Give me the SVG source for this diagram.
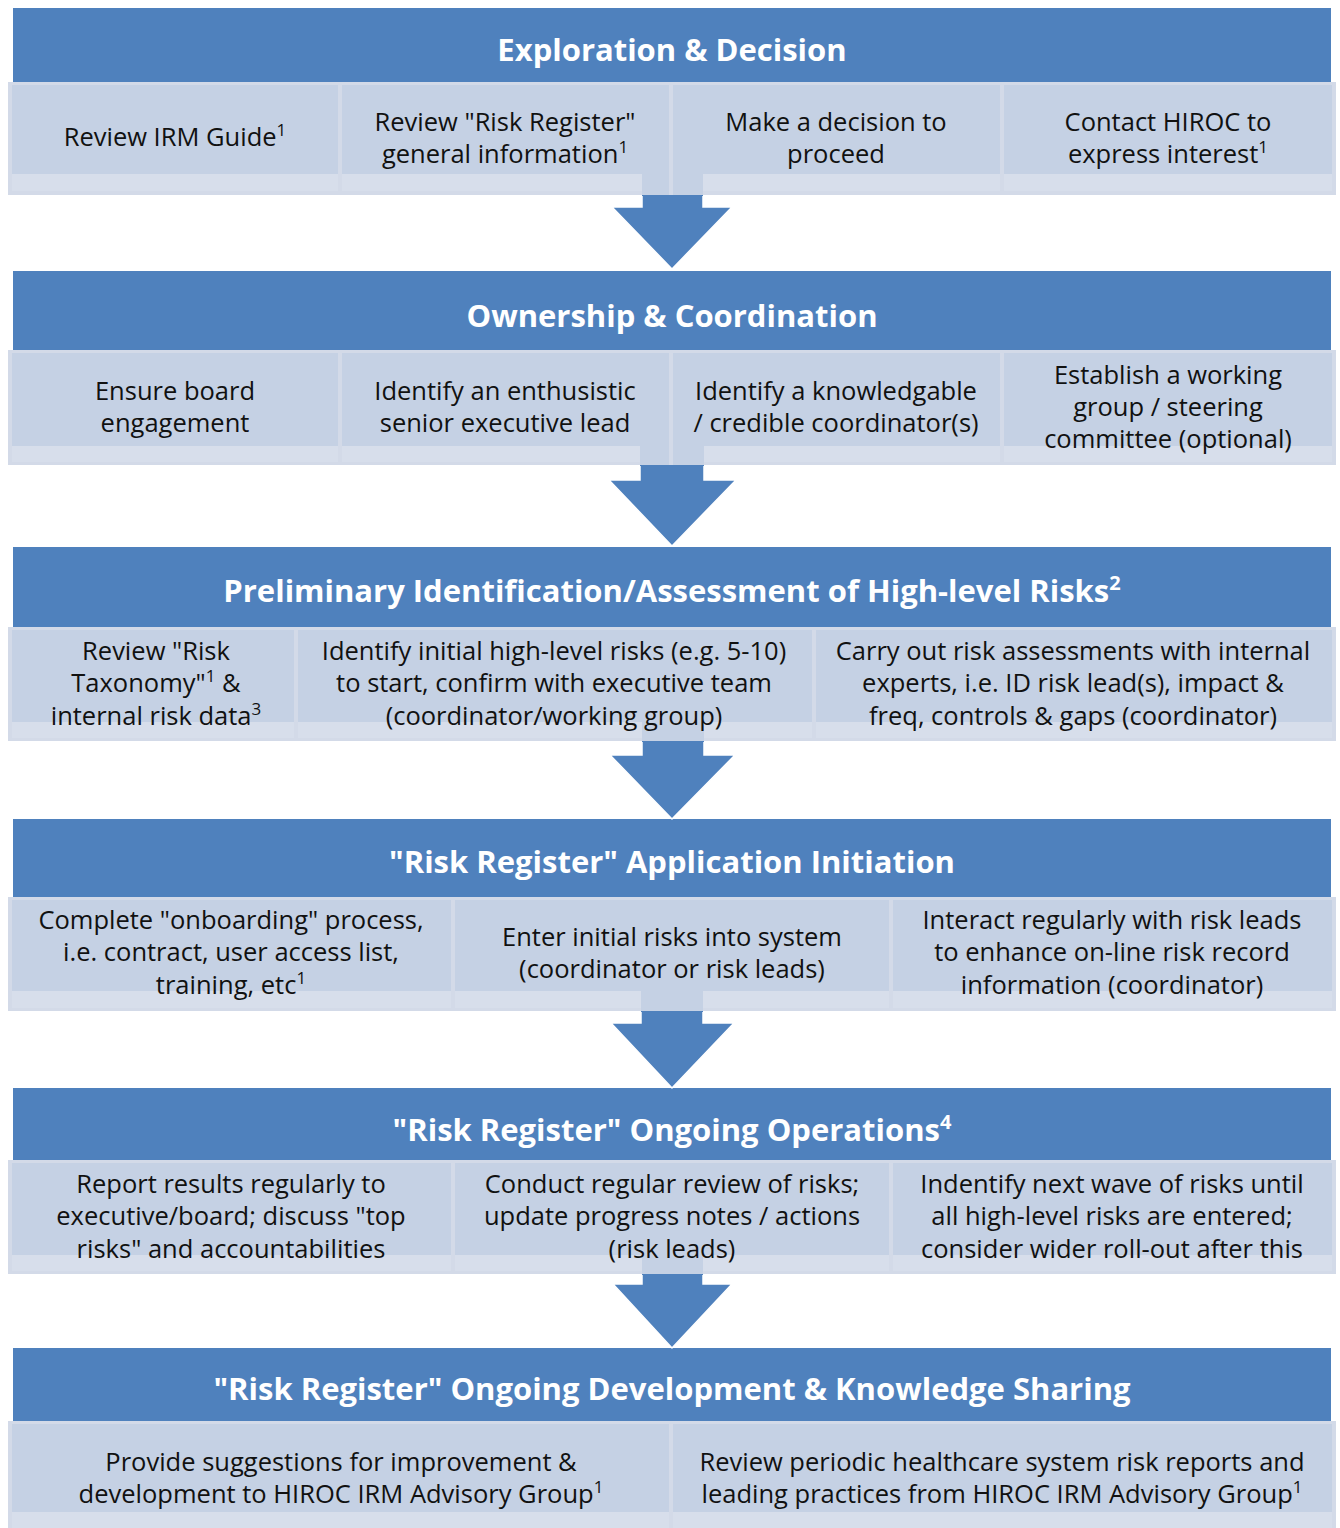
<svg xmlns="http://www.w3.org/2000/svg" width="1340" height="1528" viewBox="0 0 1340 1528">
<style>
.hdr{fill:#4F81BD}
.row{fill:#D3DAE8}
.cell{fill:#C5D1E4}
.strip{fill:#D7DEEB}
.arrow{fill:#4F81BD}
.edge{fill:none;stroke:#fff;stroke-width:1.5}
.h{font-family:"Open Sans","Liberation Sans",sans-serif;font-weight:700;font-size:31px;fill:#fff;text-anchor:middle}
.t{font-family:"Open Sans","Liberation Sans",sans-serif;font-size:25.5px;fill:#111;text-anchor:middle}
.sup{font-size:17px}
.hsup{font-size:20px}
</style>
<rect width="1340" height="1528" fill="#fff"/>

<!-- Section 1 -->
<g id="sec1">
<rect class="hdr" x="13" y="8" width="1318" height="74"/>
<text class="h" x="672" y="61">Exploration &amp; Decision</text>
<rect class="row" x="8" y="82" width="1328" height="113"/>
<rect class="cell" x="642" y="174" width="27" height="21"/><rect class="cell" x="673" y="174" width="30" height="21"/>
<g id="s1c1"><rect class="cell" x="12" y="85" width="326" height="89"/><rect class="strip" x="12" y="174" width="326" height="17"/>
<text class="t" x="175" y="146">Review IRM Guide<tspan class="sup" dy="-10">1</tspan></text></g>
<g id="s1c2"><rect class="cell" x="342" y="85" width="327" height="89"/><rect class="strip" x="342" y="174" width="300" height="17"/>
<text class="t" x="505" y="131">Review "Risk Register"</text><text class="t" x="505" y="163">general information<tspan class="sup" dy="-10">1</tspan></text></g>
<g id="s1c3"><rect class="cell" x="673" y="85" width="327" height="89"/><rect class="strip" x="703" y="174" width="297" height="17"/>
<text class="t" x="836" y="131">Make a decision to</text><text class="t" x="836" y="163">proceed</text></g>
<g id="s1c4"><rect class="cell" x="1004" y="85" width="328" height="89"/><rect class="strip" x="1004" y="174" width="328" height="17"/>
<text class="t" x="1168" y="131">Contact HIROC to</text><text class="t" x="1168" y="163">express interest<tspan class="sup" dy="-10">1</tspan></text></g>
</g>

<!-- Section 2 -->
<g id="sec2">
<rect class="hdr" x="13" y="271" width="1318" height="79"/>
<text class="h" x="672" y="327">Ownership &amp; Coordination</text>
<rect class="row" x="8" y="350" width="1328" height="115"/>
<rect class="cell" x="640" y="446" width="29" height="19"/><rect class="cell" x="673" y="446" width="31" height="19"/>
<g id="s2c1"><rect class="cell" x="12" y="353" width="326" height="93"/><rect class="strip" x="12" y="446" width="326" height="16"/>
<text class="t" x="175" y="400">Ensure board</text><text class="t" x="175" y="432">engagement</text></g>
<g id="s2c2"><rect class="cell" x="342" y="353" width="327" height="93"/><rect class="strip" x="342" y="446" width="298" height="16"/>
<text class="t" x="505" y="400">Identify an enthusistic</text><text class="t" x="505" y="432">senior executive lead</text></g>
<g id="s2c3"><rect class="cell" x="673" y="353" width="327" height="93"/><rect class="strip" x="704" y="446" width="296" height="16"/>
<text class="t" x="836" y="400">Identify a knowledgable</text><text class="t" x="836" y="432">/ credible coordinator(s)</text></g>
<g id="s2c4"><rect class="cell" x="1004" y="353" width="328" height="93"/><rect class="strip" x="1004" y="446" width="328" height="16"/>
<text class="t" x="1168" y="384">Establish a working</text><text class="t" x="1168" y="416">group / steering</text><text class="t" x="1168" y="448">committee (optional)</text></g>
</g>

<!-- Section 3 -->
<g id="sec3">
<rect class="hdr" x="13" y="547" width="1318" height="80"/>
<text class="h" x="672" y="602">Preliminary Identification/Assessment of High-level Risks<tspan class="hsup" dy="-12">2</tspan></text>
<rect class="row" x="8" y="627" width="1328" height="114"/>
<rect class="cell" x="642" y="722" width="62" height="19"/>
<g id="s3c1"><rect class="cell" x="12" y="630" width="282" height="92"/><rect class="strip" x="12" y="722" width="282" height="16"/>
<text class="t" x="156" y="660">Review "Risk</text><text class="t" x="156" y="692">Taxonomy"<tspan class="sup" dy="-10">1</tspan><tspan dy="10"> &amp;</tspan></text><text class="t" x="156" y="725">internal risk data<tspan class="sup" dy="-10">3</tspan></text></g>
<g id="s3c2"><rect class="cell" x="298" y="630" width="514" height="92"/><rect class="strip" x="298" y="722" width="344" height="16"/><rect class="strip" x="704" y="722" width="108" height="16"/>
<text class="t" x="554" y="660">Identify initial high-level risks (e.g. 5-10)</text><text class="t" x="554" y="692">to start, confirm with executive team</text><text class="t" x="554" y="725">(coordinator/working group)</text></g>
<g id="s3c3"><rect class="cell" x="816" y="630" width="516" height="92"/><rect class="strip" x="816" y="722" width="516" height="16"/>
<text class="t" x="1073" y="660">Carry out risk assessments with internal</text><text class="t" x="1073" y="692">experts, i.e. ID risk lead(s), impact &amp;</text><text class="t" x="1073" y="725">freq, controls &amp; gaps (coordinator)</text></g>
</g>

<!-- Section 4 -->
<g id="sec4">
<rect class="hdr" x="13" y="819" width="1318" height="78"/>
<text class="h" x="672" y="873">"Risk Register" Application Initiation</text>
<rect class="row" x="8" y="897" width="1328" height="114"/>
<rect class="cell" x="641" y="991" width="62" height="20"/>
<g id="s4c1"><rect class="cell" x="12" y="900" width="439" height="91"/><rect class="strip" x="12" y="991" width="439" height="17"/>
<text class="t" x="231" y="929">Complete "onboarding" process,</text><text class="t" x="231" y="961">i.e. contract, user access list,</text><text class="t" x="231" y="994">training, etc<tspan class="sup" dy="-10">1</tspan></text></g>
<g id="s4c2"><rect class="cell" x="455" y="900" width="434" height="91"/><rect class="strip" x="455" y="991" width="186" height="17"/><rect class="strip" x="703" y="991" width="186" height="17"/>
<text class="t" x="672" y="946">Enter initial risks into system</text><text class="t" x="672" y="978">(coordinator or risk leads)</text></g>
<g id="s4c3"><rect class="cell" x="893" y="900" width="439" height="91"/><rect class="strip" x="893" y="991" width="439" height="17"/>
<text class="t" x="1112" y="929">Interact regularly with risk leads</text><text class="t" x="1112" y="961">to enhance on-line risk record</text><text class="t" x="1112" y="994">information (coordinator)</text></g>
</g>

<!-- Section 5 -->
<g id="sec5">
<rect class="hdr" x="13" y="1088" width="1318" height="72"/>
<text class="h" x="672" y="1141">"Risk Register" Ongoing Operations<tspan class="hsup" dy="-12">4</tspan></text>
<rect class="row" x="8" y="1160" width="1328" height="114"/>
<rect class="cell" x="642" y="1255" width="61" height="19"/>
<g id="s5c1"><rect class="cell" x="12" y="1163" width="439" height="92"/><rect class="strip" x="12" y="1255" width="439" height="16"/>
<text class="t" x="231" y="1193">Report results regularly to</text><text class="t" x="231" y="1225">executive/board; discuss "top</text><text class="t" x="231" y="1258">risks" and accountabilities</text></g>
<g id="s5c2"><rect class="cell" x="455" y="1163" width="434" height="92"/><rect class="strip" x="455" y="1255" width="187" height="16"/><rect class="strip" x="703" y="1255" width="186" height="16"/>
<text class="t" x="672" y="1193">Conduct regular review of risks;</text><text class="t" x="672" y="1225">update progress notes / actions</text><text class="t" x="672" y="1258">(risk leads)</text></g>
<g id="s5c3"><rect class="cell" x="893" y="1163" width="439" height="92"/><rect class="strip" x="893" y="1255" width="439" height="16"/>
<text class="t" x="1112" y="1193">Indentify next wave of risks until</text><text class="t" x="1112" y="1225">all high-level risks are entered;</text><text class="t" x="1112" y="1258">consider wider roll-out after this</text></g>
</g>

<!-- Section 6 -->
<g id="sec6">
<rect class="hdr" x="13" y="1348" width="1318" height="73"/>
<text class="h" x="672" y="1400">"Risk Register" Ongoing Development &amp; Knowledge Sharing</text>
<rect class="row" x="8" y="1421" width="1328" height="107"/>
<g id="s6c1"><rect class="cell" x="12" y="1424" width="657" height="88"/><rect class="strip" x="12" y="1512" width="657" height="16"/>
<text class="t" x="341" y="1471">Provide suggestions for improvement &amp;</text><text class="t" x="341" y="1503">development to HIROC IRM Advisory Group<tspan class="sup" dy="-10">1</tspan></text></g>
<g id="s6c2"><rect class="cell" x="673" y="1424" width="659" height="88"/><rect class="strip" x="673" y="1512" width="659" height="16"/>
<text class="t" x="1002" y="1471">Review periodic healthcare system risk reports and</text><text class="t" x="1002" y="1503">leading practices from HIROC IRM Advisory Group<tspan class="sup" dy="-10">1</tspan></text></g>
</g>

<!-- Connectors -->
<g id="connectors">
<polygon class="arrow" points="642,195 703,195 703,207 732,207 672,269 612,207 642,207"/>
<polyline class="edge" points="642,196 642,207 612,207 672,269 732,207 703,207 703,196"/>
<polygon class="arrow" points="640,465 704,465 704,480 736,480 672,546 609,480 640,480"/>
<polyline class="edge" points="640,466 640,480 609,480 672,546 736,480 704,480 704,466"/>
<polygon class="arrow" points="642,741 704,741 704,755 735,755 672,819 610,755 642,755"/>
<polyline class="edge" points="642,742 642,755 610,755 672,819 735,755 704,755 704,742"/>
<polygon class="arrow" points="641,1011 703,1011 703,1023 734,1023 672,1088 611,1023 641,1023"/>
<polyline class="edge" points="641,1012 641,1023 611,1023 672,1088 734,1023 703,1023 703,1012"/>
<polygon class="arrow" points="642,1274 703,1274 703,1284 732,1284 672,1348 613,1284 642,1284"/>
<polyline class="edge" points="642,1275 642,1284 613,1284 672,1348 732,1284 703,1284 703,1275"/>
</g>
</svg>
